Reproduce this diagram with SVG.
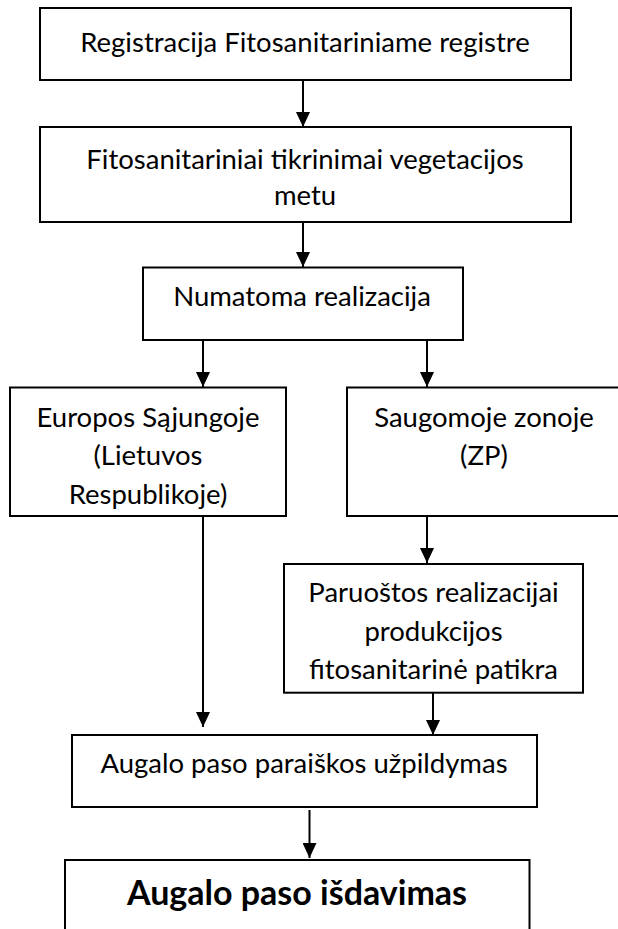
<svg xmlns="http://www.w3.org/2000/svg" width="618" height="929" viewBox="0 0 618 929">
<style>
.box{fill:#fff;stroke:#000;stroke-width:2}
.t{font-family:Lato,"Liberation Sans",sans-serif;font-size:27.5px;fill:#000;text-anchor:middle}
.b{font-weight:bold;font-size:34px}
.c{stroke:#000;stroke-width:2;fill:none;marker-end:url(#ah)}
</style>
<defs>
<marker id="ah" markerUnits="userSpaceOnUse" viewBox="0 0 15 14" refX="15" refY="7" markerWidth="15" markerHeight="14" orient="auto">
<path d="M0,0 L15,7 L0,14 z" fill="#000"/>
</marker>
</defs>
<rect width="618" height="929" fill="#fff"/>
<g id="connectors">
<line class="c" x1="303" y1="80" x2="303" y2="127"/>
<line class="c" x1="303" y1="222" x2="303" y2="267"/>
<line class="c" x1="203" y1="340" x2="203" y2="387"/>
<line class="c" x1="427" y1="340" x2="427" y2="387"/>
<line class="c" x1="203" y1="516" x2="203" y2="727"/>
<line class="c" x1="427" y1="516" x2="427" y2="563"/>
<line class="c" x1="433" y1="688" x2="433" y2="735"/>
<line class="c" x1="309.5" y1="810" x2="309.5" y2="858"/>
</g>
<g id="n1"><rect class="box" x="40" y="8" width="531" height="72"/><text class="t" x="305" y="52">Registracija Fitosanitariniame registre</text></g>
<g id="n2"><rect class="box" x="40" y="127" width="531" height="95"/><text class="t" x="305" y="169">Fitosanitariniai tikrinimai vegetacijos</text><text class="t" x="305" y="205">metu</text></g>
<g id="n3"><rect class="box" x="143" y="267.5" width="320" height="72.5"/><text class="t" x="302" y="306">Numatoma realizacija</text></g>
<g id="n4"><rect class="box" x="10" y="387.5" width="276" height="128.5"/><text class="t" x="148" y="426.5">Europos Sąjungoje</text><text class="t" x="148" y="465">(Lietuvos</text><text class="t" x="148" y="503.5">Respublikoje)</text></g>
<g id="n5"><rect class="box" x="347" y="387.5" width="280" height="128.5"/><text class="t" x="484" y="426.5">Saugomoje zonoje</text><text class="t" x="484" y="465">(ZP)</text></g>
<g id="n6"><rect class="box" x="284" y="564" width="299" height="128.7"/><text class="t" x="433.5" y="602">Paruoštos realizacijai</text><text class="t" x="433.5" y="641">produkcijos</text><text class="t" x="433.5" y="679">fitosanitarinė patikra</text></g>
<g id="n7"><rect class="box" x="72" y="735" width="465" height="72"/><text class="t" x="304" y="773">Augalo paso paraiškos užpildymas</text></g>
<g id="n8"><rect class="box" x="65" y="860" width="464.5" height="100"/><text class="t b" x="297" y="905">Augalo paso išdavimas</text></g>
</svg>
